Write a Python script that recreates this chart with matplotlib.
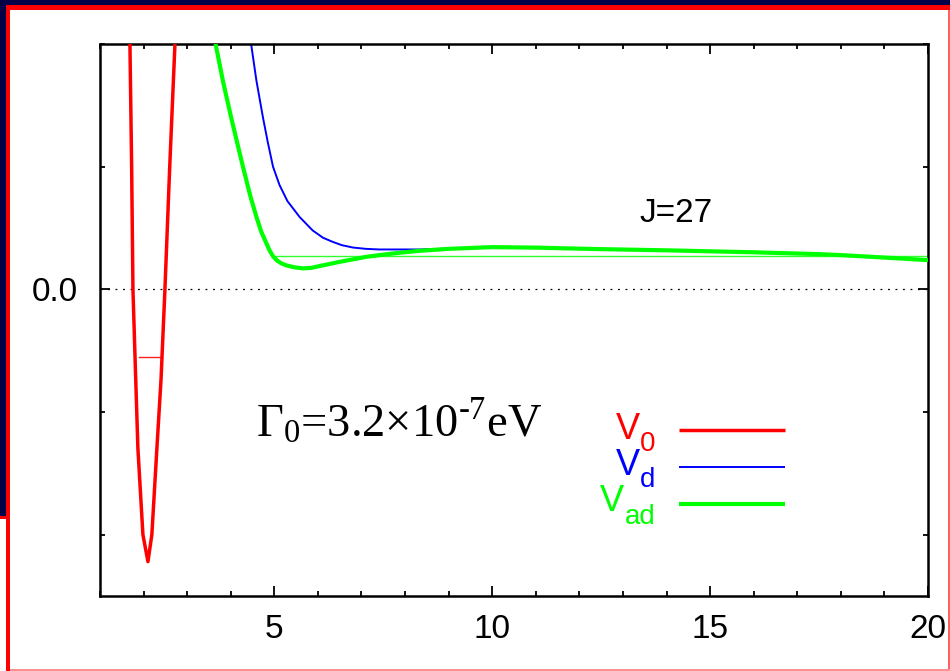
import matplotlib
matplotlib.use("Agg")
import matplotlib.pyplot as plt
from matplotlib.patches import Rectangle

plt.rcParams["mathtext.fontset"] = "custom"
plt.rcParams["mathtext.rm"] = "Liberation Serif"
plt.rcParams["mathtext.sf"] = "Liberation Sans"
plt.rcParams["font.family"] = ["Liberation Sans", "DejaVu Sans"]

# ---- potential curves (internuclear distance vs energy, arbitrary units) ----
r_v0 = [1.68, 1.687, 1.726, 1.756, 1.82, 1.87, 1.985, 2.10, 2.19, 2.305, 2.40, 2.49, 2.60, 2.72, 2.73]
v0 = [2.1, 2.0, 1.0, 0.0, -0.737, -1.3, -2.0, -2.22, -2.0, -1.3, -0.737, 0.0, 1.0, 2.0, 2.1]

r_vd = [4.44, 4.47, 4.59, 4.74, 4.85, 4.97, 5.12, 5.30, 5.58, 5.88, 6.12, 6.34, 6.55, 6.80,
        7.10, 7.41, 8.33, 9.0, 9.7, 10.0, 11.0, 12.45, 14.0, 15.0, 16.0, 17.5, 18.0, 19.0, 20.0]
vd = [2.1, 1.994, 1.70, 1.40, 1.20, 1.0, 0.85, 0.72, 0.59, 0.48, 0.42, 0.387, 0.36, 0.341,
      0.33, 0.325, 0.325, 0.332, 0.34, 0.344, 0.34, 0.328, 0.318, 0.31, 0.302, 0.287, 0.279, 0.259, 0.238]

r_vad = [3.62, 3.656, 3.82, 4.01, 4.28, 4.45, 4.59, 4.70, 4.82, 4.89, 4.97, 5.06, 5.16, 5.27,
         5.45, 5.66, 5.85, 6.04, 6.50, 7.11, 7.50, 7.87, 8.33, 9.0, 9.7, 10.0, 11.0, 12.45,
         14.0, 15.0, 16.0, 17.5, 18.0, 19.0, 20.0]
vad = [2.1, 1.994, 1.70, 1.40, 1.0, 0.76, 0.59, 0.47, 0.374, 0.318, 0.27, 0.235, 0.212, 0.196,
       0.18, 0.171, 0.175, 0.19, 0.224, 0.265, 0.283, 0.298, 0.314, 0.330, 0.34, 0.344, 0.34, 0.328,
       0.318, 0.31, 0.302, 0.287, 0.279, 0.259, 0.238]

# vibrational level in the well and the quasi-bound level above the barrier
level_v0 = -0.548
level_v0_span = [1.90, 2.39]
level_vad = 0.27
level_vad_span = [4.97, 20.0]

xticks_major = [5, 10, 15, 20]
xticks_minor = list(range(1, 21))
yticks_major = [0.0]
ytick_labels = ["0.0"]
yticks_minor = [-2, -1, 1, 2]

key_subscripts = ["0", "d", "ad"]
series_colors = ["#ff0000", "#0000ff", "#00ff00"]
series_widths = [2.5, 1.4, 3.0]

W, H = 950, 671
fig = plt.figure(figsize=(W / 100, H / 100), dpi=100)
fig.patch.set_facecolor("white")


def px_rect(x0, y0, x1, y1, color):
    fig.add_artist(Rectangle((x0 / W, 1 - y1 / H), (x1 - x0) / W, (y1 - y0) / H,
                             transform=fig.transFigure, facecolor=color,
                             edgecolor="none", zorder=-5))


navy = "#020046"
px_rect(0, 0, W, 5, navy)
px_rect(0, 0, 6, 517, navy)
px_rect(0, 516, 6, 519, "#ff0000")
px_rect(6, 5, 10, H, "#ff0000")
px_rect(6, 5, W, 10, "#ff0000")
px_rect(948, 10, 950, H, "#ff6060")
px_rect(10, 669, 950, 671, "#ff9090")

ax = fig.add_axes([100 / W, 1 - 596 / H, 828 / W, 552 / H])
ax.set_xlim(1, 20)
ax.set_ylim(-2.5, 2.0)

ax.axhline(0, color="black", lw=0.9, ls=(0, (1.5, 4.5)), zorder=1)

ax.plot(r_v0, v0, color=series_colors[0], lw=series_widths[0], zorder=4)
ax.plot(level_v0_span, [level_v0, level_v0], color="#ff2020", lw=1.0, zorder=3)
ax.plot(r_vd, vd, color=series_colors[1], lw=series_widths[1], zorder=2)
ax.plot(level_vad_span, [level_vad, level_vad], color="#30ff30", lw=1.0, zorder=2)
ax.plot(r_vad, vad, color=series_colors[2], lw=series_widths[2], zorder=3)

# key: "V" with a subscript on the left, sample line on the right
key_x_text = 13.74
key_line_x = [14.28, 16.71]
key_line_y = [-1.15, -1.45, -1.75]
key_text_y = [-1.217, -1.51, -1.81]
sub_drop = 12.5 / 123.0  # subscript baseline drop, in y units
renderer = fig.canvas.get_renderer()
for sub, col, lw, ly, ty in zip(key_subscripts, series_colors, series_widths, key_line_y, key_text_y):
    ax.plot(key_line_x, [ly, ly], color=col, lw=lw, solid_capstyle="butt")
    st = ax.text(key_x_text, ty - sub_drop, sub, color=col, fontsize=20,
                 ha="right", va="baseline")
    bb = st.get_window_extent(renderer)
    x_left = ax.transData.inverted().transform((bb.x0, bb.y0))[0]
    ax.text(x_left, ty, "V", color=col, fontsize=26, ha="right", va="baseline")

ax.text(13.37, 0.547, "J=27", fontsize=24, ha="left", va="baseline",
        family=["Liberation Sans", "DejaVu Sans"])
ax.text(4.59, -1.21, r"$\mathrm{\Gamma_0}$=3.2×10$^{\text{-7}}$eV", fontsize=33.5,
        ha="left", va="baseline", family=["Liberation Serif", "DejaVu Serif"])

ax.set_xticks(xticks_major)
ax.set_xticks(xticks_minor, minor=True)
ax.set_yticks(yticks_major)
ax.set_yticklabels(ytick_labels)
ax.set_yticks(yticks_minor, minor=True)
ax.tick_params(which="both", direction="in", top=True, right=True, width=1.3,
               labelsize=24, colors="black")
ax.tick_params(which="major", length=7.5)
ax.tick_params(which="minor", length=3.5)
ax.tick_params(axis="x", pad=13)
ax.tick_params(axis="y", pad=16)
for s in ax.spines.values():
    s.set_linewidth(1.8)

fig.savefig("out.png", dpi=100)
